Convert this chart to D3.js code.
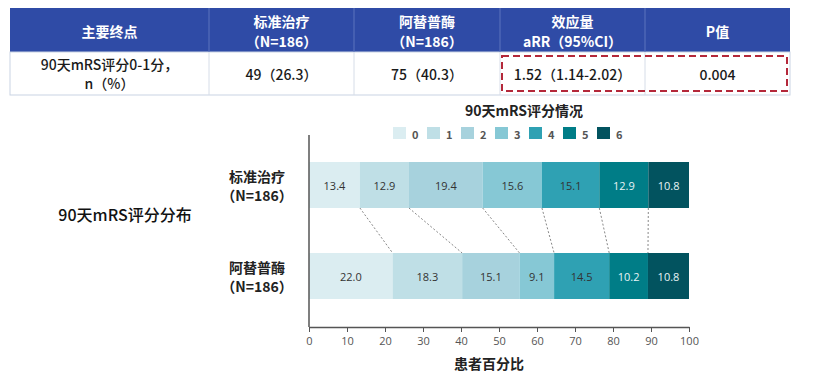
<!DOCTYPE html>
<html><head><meta charset="utf-8">
<script src="https://cdn.jsdelivr.net/npm/d3@7"></script>
<style>body{margin:0;background:#fff}svg{display:block;font-family:"Noto Sans CJK SC","Noto Sans",sans-serif}</style>
</head><body>
<script>
const headers = [["主要终点"],["标准治疗","（N=186）"],["阿替普酶","（N=186）"],["效应量","aRR（95%CI）"],["P值"]];
const rowCells = [["90天mRS评分0-1分，","n（%）"],["49（26.3）"],["75（40.3）"],["1.52（1.14-2.02）"],["0.004"]];
const colEdges = [10, 209, 354, 500, 645, 790];

const chartTitle = "90天mRS评分情况";
const sideTitle = "90天mRS评分分布";
const scores = ["0","1","2","3","4","5","6"];
const groups = [["标准治疗","（N=186）"],["阿替普酶","（N=186）"]];
const standardVals = [13.4,12.9,19.4,15.6,15.1,12.9,10.8];
const alteplaseVals = [22.0,18.3,15.1,9.1,14.5,10.2,10.8];
const xTicks = [0,10,20,30,40,50,60,70,80,90,100];
const xTitle = "患者百分比";
const colors = ["#dbedf1","#bfdfe6","#a7d2dd","#86c8d5","#2fa1b3","#007d87","#02535f"];

const W=831,H=376;
const svg=d3.select("body").append("svg").attr("width",W).attr("height",H);

// ---- Table ----
const tTop=8, tMid=52, tBot=95;
const hdrBlue="#2f4ba6";
svg.append("rect").attr("x",colEdges[0]).attr("y",tTop).attr("width",colEdges[5]-colEdges[0]).attr("height",tMid-tTop).attr("fill",hdrBlue);
svg.append("rect").attr("x",colEdges[0]).attr("y",tMid).attr("width",colEdges[5]-colEdges[0]).attr("height",tBot-tMid).attr("fill","#fff").attr("stroke","#c9d3e3").attr("stroke-width",1);
for(let i=1;i<5;i++){
  svg.append("line").attr("x1",colEdges[i]).attr("x2",colEdges[i]).attr("y1",tTop).attr("y2",tMid).attr("stroke","#5c74bd").attr("stroke-width",1);
  svg.append("line").attr("x1",colEdges[i]).attr("x2",colEdges[i]).attr("y1",tMid).attr("y2",tBot).attr("stroke","#d6dde8").attr("stroke-width",1);
}
headers.forEach((h,i)=>{
  const cx=(colEdges[i]+colEdges[i+1])/2;
  const ys = h.length===1?[31]:[20.5,40.5];
  h.forEach((t,j)=>svg.append("text").attr("x",cx).attr("y",ys[j]).attr("text-anchor","middle").attr("dominant-baseline","central")
    .attr("fill","#fff").attr("font-size",14).attr("font-weight",700).text(t));
});
rowCells.forEach((h,i)=>{
  const cx=(colEdges[i]+colEdges[i+1])/2;
  const ys = h.length===1?[74]:[64,83];
  h.forEach((t,j)=>svg.append("text").attr("x",cx).attr("y",ys[j]).attr("text-anchor","middle").attr("dominant-baseline","central")
    .attr("fill","#1a1a1a").attr("font-size",14).attr("font-weight",500).text(t));
});
svg.append("rect").attr("x",502).attr("y",56).attr("width",285).attr("height",35).attr("fill","none")
  .attr("stroke","#b4283a").attr("stroke-width",2).attr("stroke-dasharray","7,4");

// ---- Chart ----
const x=d3.scaleLinear().domain([0,100]).range([309,689]);
const barTop=[162,253], barH=46;

svg.append("text").attr("x",524).attr("y",110).attr("text-anchor","middle").attr("dominant-baseline","central")
  .attr("font-size",14).attr("font-weight",700).attr("fill","#222").text(chartTitle);

// legend
scores.forEach((s,i)=>{
  const lx=393+i*34;
  svg.append("rect").attr("x",lx).attr("y",127).attr("width",13).attr("height",12).attr("fill",colors[i]);
  svg.append("text").attr("x",lx+19).attr("y",133.5).attr("dominant-baseline","central").attr("font-size",11).attr("font-weight",700).attr("fill","#555").text(s);
});

const data=[standardVals,alteplaseVals];
const cum=data.map(v=>{let c=0;return v.map(d=>{const s=c;c+=d;return [s,c];});});

// connectors
for(let k=1;k<7;k++){
  svg.append("line").attr("x1",x(cum[0][k][0])).attr("y1",barTop[0]+barH).attr("x2",x(cum[1][k][0])).attr("y2",barTop[1])
    .attr("stroke","#888").attr("stroke-width",1).attr("stroke-dasharray","2,2");
}

data.forEach((vals,g)=>{
  vals.forEach((v,i)=>{
    const [a,b]=cum[g][i];
    svg.append("rect").attr("x",x(a)).attr("y",barTop[g]).attr("width",x(Math.min(b,100))-x(a)).attr("height",barH).attr("fill",colors[i]);
    svg.append("text").attr("x",(x(a)+x(Math.min(b,100)))/2).attr("y",barTop[g]+barH/2).attr("text-anchor","middle").attr("dominant-baseline","central")
      .attr("font-size",11).attr("fill",i>=5?"#e8f4f6":"#333").attr("font-family","'Open Sans',sans-serif").text(v.toFixed(1));
  });
  const cy=barTop[g]+barH/2;
  groups[g].forEach((t,j)=>svg.append("text").attr("x",257).attr("y",cy-9.5+j*19.5).attr("text-anchor","middle").attr("dominant-baseline","central")
    .attr("font-size",14).attr("font-weight",700).attr("fill","#222").text(t));
});

// axes
svg.append("line").attr("x1",309).attr("x2",309).attr("y1",135).attr("y2",327).attr("stroke","#555").attr("stroke-width",1.5);
const ax=svg.append("g").attr("transform","translate(0,327)").call(d3.axisBottom(x).tickValues(xTicks).tickSize(5).tickSizeOuter(0));
ax.select(".domain").attr("stroke","#555").attr("stroke-width",1.5);
ax.selectAll(".tick line").attr("stroke","#555");
ax.selectAll(".tick text").attr("font-size",11).attr("fill","#555").attr("font-family","'Open Sans',sans-serif").attr("dy","0.9em");
svg.append("text").attr("x",489).attr("y",363).attr("text-anchor","middle").attr("dominant-baseline","central")
  .attr("font-size",14).attr("font-weight",700).attr("fill","#222").text(xTitle);

svg.append("text").attr("x",125).attr("y",214).attr("text-anchor","middle").attr("dominant-baseline","central")
  .attr("font-size",16).attr("font-weight",500).attr("fill","#111").text(sideTitle);
</script>
</body></html>
